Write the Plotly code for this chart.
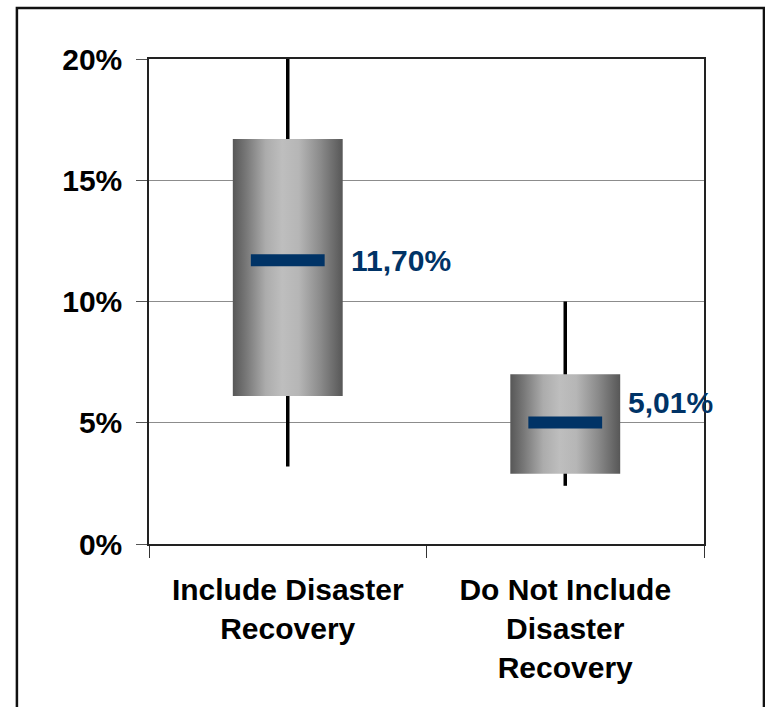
import plotly.graph_objects as go

categories = ["Include Disaster<br>Recovery", "Do Not Include<br>Disaster<br>Recovery"]
positions = [0.5, 1.5]
lower = [0.032, 0.024]
q1 = [0.061, 0.029]
median = [0.117, 0.0501]
q3 = [0.167, 0.070]
upper = [0.200, 0.100]
label_text = ["11,70%", "5,01%"]
label_yshift = [0, 20]

y_ticks = [0, 0.05, 0.10, 0.15, 0.20]
y_ticktext = ["0%", "5%", "10%", "15%", "20%"]

BOX_HALF = 0.198
MED_HALF = 0.133
FONT = "Liberation Sans, Arial, sans-serif"
BLUE = "#003366"
FS = 30

gradient = [
    [0.0, "#575757"],
    [0.12, "#777777"],
    [0.30, "#acacac"],
    [0.45, "#bebebe"],
    [0.60, "#b6b6b6"],
    [0.80, "#8a8a8a"],
    [1.0, "#575757"],
]

fig = go.Figure()
for i, c in enumerate(positions):
    # whisker
    fig.add_trace(go.Scatter(
        x=[c, c], y=[lower[i], upper[i]], mode="lines",
        line=dict(color="#000000", width=3.5), hoverinfo="skip", showlegend=False))
    # box with cylinder gradient
    fig.add_trace(go.Scatter(
        x=[c - BOX_HALF, c + BOX_HALF, c + BOX_HALF, c - BOX_HALF, c - BOX_HALF],
        y=[q1[i], q1[i], q3[i], q3[i], q1[i]],
        mode="lines", fill="toself", line=dict(width=0, color="rgba(0,0,0,0)"),
        fillgradient=dict(type="horizontal", colorscale=gradient),
        hoverinfo="skip", showlegend=False))
    # median bar
    fig.add_trace(go.Scatter(
        x=[c - MED_HALF, c + MED_HALF], y=[median[i], median[i]], mode="lines",
        line=dict(color=BLUE, width=12), hoverinfo="skip", showlegend=False))
    fig.add_annotation(
        x=c + BOX_HALF, y=median[i], xref="x", yref="y", text=label_text[i],
        showarrow=False, xanchor="left", yanchor="middle", xshift=6,
        yshift=label_yshift[i],
        font=dict(family=FONT, size=FS, color=BLUE, weight="bold"))

fig.add_shape(type="rect", xref="paper", yref="paper",
              x0=-0.238, x1=1.108, y0=-0.4, y1=1.105,
              line=dict(color="#111111", width=2.5), fillcolor="rgba(0,0,0,0)", layer="below")

fig.update_layout(
    width=765, height=707,
    margin=dict(l=149, r=61, t=59, b=163),
    paper_bgcolor="white", plot_bgcolor="white",
    font=dict(family=FONT, size=FS, color="#000000"),
    showlegend=False,
)
fig.update_yaxes(
    range=[0, 0.20], tickvals=y_ticks, ticktext=y_ticktext,
    tickfont=dict(family=FONT, size=FS, color="#000000", weight="bold"),
    ticks="outside", ticklen=11, tickcolor="#555555", tickwidth=1,
    showgrid=True, gridcolor="#8c8c8c", gridwidth=1,
    showline=True, linecolor="#222222", linewidth=1.5, mirror=True,
    zeroline=False, ticklabelstandoff=8,
)
fig.update_xaxes(
    range=[0, 2], tickvals=positions, ticktext=categories,
    tickfont=dict(family=FONT, size=FS, color="#000000", weight="bold"),
    ticks="", showgrid=False, zeroline=False,
    showline=True, linecolor="#222222", linewidth=2, mirror=True,
    minor=dict(tickmode="array", tickvals=[0, 1, 2], ticks="outside",
               ticklen=12, tickcolor="#333333", tickwidth=1, showgrid=False),
    ticklabelstandoff=18,
)

fig.write_html("out.html")
